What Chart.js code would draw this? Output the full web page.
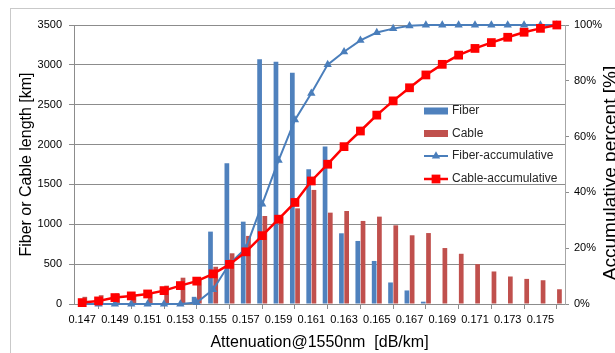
<!DOCTYPE html>
<html>
<head>
<meta charset="utf-8">
<script src="https://cdn.jsdelivr.net/npm/chart.js@4"></script>
<style>
    html, body { margin: 0; padding: 0; background: #fff; }
    #wrap { position: relative; width: 615px; height: 353px; overflow: hidden; }
    #frame { position: absolute; left: 10px; top: 8px; width: 640px; height: 380px;
             border-left: 1px solid #c9c9c9; border-top: 1px solid #c9c9c9; }
    canvas { position: absolute; left: 0; top: 0; }
</style>
</head>
<body>
<div id="wrap">
    <div id="frame"></div>
    <canvas id="chart" width="615" height="353"></canvas>
</div>
<script>
// --- DATA ---
const attenuation = ['0.147', '0.148', '0.149', '0.150', '0.151', '0.152', '0.153', '0.154', '0.155', '0.156',
                     '0.157', '0.158', '0.159', '0.160', '0.161', '0.162', '0.163', '0.164', '0.165', '0.166',
                     '0.167', '0.168', '0.169', '0.170', '0.171', '0.172', '0.173', '0.174', '0.175', '0.176'];

const fiberLength = [0, 0, 0, 0, 0, 0, 0, 90, 908, 1766, 1033, 3070, 3040, 2902, 1690, 1975, 887, 791, 540, 270,
                     170, 29, 0, 0, 0, 0, 0, 0, 0, 0];
const cableLength = [90, 110, 130, 120, 140, 230, 330, 300, 467, 636, 854, 1104, 1100, 1200, 1431, 1146, 1167, 1042, 1096, 987,
                     862, 890, 702, 630, 500, 408, 345, 315, 298, 185];

// accumulative percent [%]
const fiberAccum = [0, 0, 0, 0, 0, 0, 0, 0.5, 5.2, 14.4, 20, 35.8, 51.5, 66, 75.5, 85.8, 90.4, 94.5, 97.3, 98.7,
                    99.7, 100, 100, 100, 100, 100, 100, 100, 100, 100];
const cableAccum = [0.5, 1.1, 2.3, 2.9, 3.6, 4.8, 6.6, 8.2, 10.8, 14.2, 18.7, 24.5, 30.4, 36.4, 44.1, 50.1, 56.4, 62, 67.7, 72.8,
                    77.5, 82.1, 85.9, 89.2, 91.6, 93.7, 95.6, 97.4, 98.8, 100];

const FONT = "'Liberation Sans', Arial, sans-serif";
Chart.defaults.font.family = FONT;
Chart.defaults.color = '#1a1a1a';

// legend drawn inside the plot, like the original
const insideLegend = {
    id: 'insideLegend',
    afterDraw(chart) {
        const ctx = chart.ctx;
        const x0 = 424, x1 = 448, textX = 452;
        const rows = [111, 133.5, 156, 179];
        const order = [2, 3, 0, 1];
        ctx.save();
        ctx.font = '12px ' + FONT;
        ctx.textBaseline = 'middle';
        ctx.textAlign = 'left';
        order.forEach((di, r) => {
            const ds = chart.data.datasets[di];
            const y = rows[r];
            if (ds.type === 'bar') {
                ctx.fillStyle = ds.backgroundColor;
                ctx.fillRect(x0, y - 3.5, x1 - x0, 7);
            } else {
                ctx.strokeStyle = ds.borderColor;
                ctx.lineWidth = ds.borderWidth;
                ctx.beginPath();
                ctx.moveTo(x0, y);
                ctx.lineTo(x1, y);
                ctx.stroke();
                const cx = (x0 + x1) / 2;
                const r0 = ds.pointRadius;
                ctx.fillStyle = ds.pointBackgroundColor;
                ctx.beginPath();
                if (ds.pointStyle === 'triangle') {
                    ctx.moveTo(cx, y - r0);
                    ctx.lineTo(cx + r0 * 0.866, y + r0 * 0.5);
                    ctx.lineTo(cx - r0 * 0.866, y + r0 * 0.5);
                    ctx.closePath();
                } else {
                    const s = Math.SQRT1_2 * r0;
                    ctx.rect(cx - s, y - s, 2 * s, 2 * s);
                }
                ctx.fill();
            }
            ctx.fillStyle = '#262626';
            ctx.fillText(ds.label, textX, y);
        });
        ctx.restore();
    }
};

// right axis title, reading bottom to top, partly cut by the edge
const rightTitle = {
    id: 'rightTitle',
    afterDraw(chart) {
        const ctx = chart.ctx;
        ctx.save();
        ctx.translate(611, 173);
        ctx.rotate(-Math.PI / 2);
        ctx.font = '19px ' + FONT;
        ctx.fillStyle = '#000';
        ctx.textAlign = 'center';
        ctx.textBaseline = 'middle';
        ctx.fillText('Accumulative percent [%]', 0, 0);
        ctx.restore();
    }
};

new Chart(document.getElementById('chart'), {
    data: {
        labels: attenuation,
        datasets: [
            {
                type: 'line', label: 'Fiber-accumulative', data: fiberAccum, yAxisID: 'yPct', order: 1, clip: false,
                borderColor: '#4a7ebb', backgroundColor: '#4a7ebb', borderWidth: 2,
                pointStyle: 'triangle', pointRadius: 4.8, pointBackgroundColor: '#4a7ebb', pointBorderWidth: 0,
                tension: 0
            },
            {
                type: 'line', label: 'Cable-accumulative', data: cableAccum, yAxisID: 'yPct', order: 0, clip: false,
                borderColor: '#ff0000', backgroundColor: '#ff0000', borderWidth: 2.5,
                pointStyle: 'rect', pointRadius: 6.2, pointBackgroundColor: '#ff0000', pointBorderWidth: 0,
                tension: 0
            },
            {
                type: 'bar', label: 'Fiber', data: fiberLength, yAxisID: 'yLen', order: 2,
                backgroundColor: '#4f81bd', categoryPercentage: 0.64, barPercentage: 0.9
            },
            {
                type: 'bar', label: 'Cable', data: cableLength, yAxisID: 'yLen', order: 2,
                backgroundColor: '#c0504d', categoryPercentage: 0.64, barPercentage: 0.9
            }
        ]
    },
    options: {
        responsive: false,
        animation: false,
        layout: { padding: { left: 0, right: 0, top: 25, bottom: 0 } },
        plugins: {
            legend: { display: false },
            tooltip: { enabled: false }
        },
        scales: {
            x: {
                grid: { display: true, drawOnChartArea: false, drawTicks: true, tickLength: 5, offset: true, color: '#8c8c8c' },
                border: { display: true, color: '#8c8c8c' },
                ticks: {
                    autoSkip: false, maxRotation: 0, padding: 4, color: '#000',
                    font: { size: 11 },
                    callback: (v, i) => (i % 2 === 0 ? attenuation[i] : null)
                },
                title: { display: true, text: 'Attenuation@1550nm  [dB/km]', color: '#000', font: { size: 16 }, padding: { top: 0, bottom: 1 } },
                afterFit: (s) => { s.height = 49; }
            },
            yLen: {
                position: 'left', min: 0, max: 3500,
                grid: { color: '#8c8c8c', tickLength: 5 },
                border: { display: true, color: '#8c8c8c' },
                ticks: { stepSize: 500, padding: 7, color: '#000', font: { size: 11 }, callback: (v) => String(v) },
                title: { display: true, text: 'Fiber or Cable length [km]', color: '#000', font: { size: 16 }, padding: { top: 17 } },
                afterFit: (s) => { s.width = 74; }
            },
            yPct: {
                position: 'right', min: 0, max: 100,
                grid: { drawOnChartArea: false, color: '#8c8c8c', tickLength: 4 },
                border: { display: true, color: '#a6a6a6' },
                ticks: { stepSize: 20, padding: 5, color: '#000', font: { size: 11 }, callback: (v) => v + '%' },
                afterFit: (s) => { s.width = 50; }
            }
        }
    },
    plugins: [insideLegend, rightTitle]
});
</script>
</body>
</html>
